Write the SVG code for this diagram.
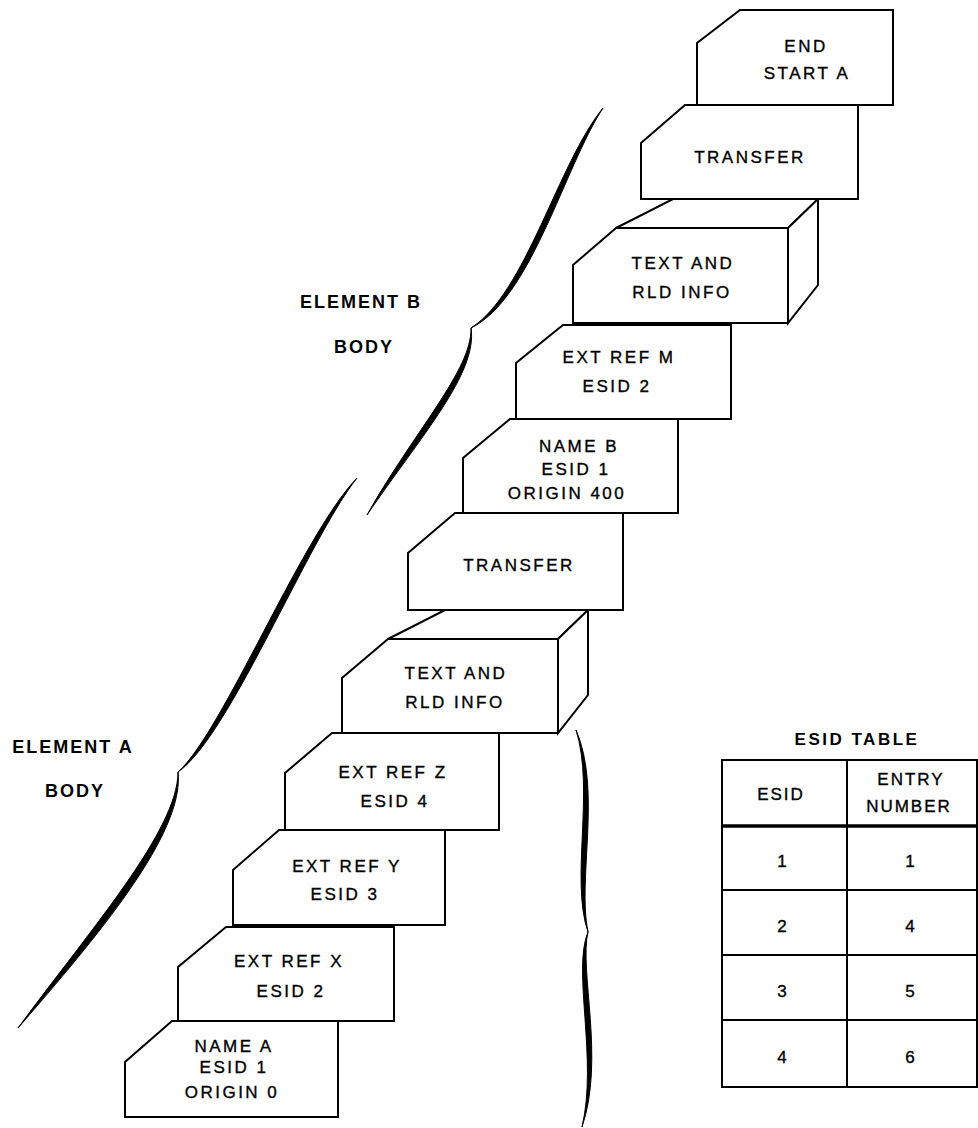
<svg xmlns="http://www.w3.org/2000/svg" width="978" height="1128" viewBox="0 0 978 1128">
<style>
.card{fill:#fff;stroke:#000;stroke-width:2;stroke-linejoin:miter}
.t{font-family:"Liberation Sans",Arial,sans-serif;font-size:17px;letter-spacing:2.5px;text-anchor:middle;fill:#000;stroke:#000;stroke-width:0.35}
.lb{font-family:"Liberation Sans",Arial,sans-serif;font-size:18px;font-weight:bold;letter-spacing:2px;text-anchor:middle;fill:#000}
.tb{font-family:"Liberation Sans",Arial,sans-serif;font-size:17px;letter-spacing:2px;text-anchor:middle;fill:#000;stroke:#000;stroke-width:0.35}
.brace{fill:#000;stroke:#000;stroke-width:1;stroke-linejoin:round}
.grid{fill:none;stroke:#000;stroke-width:2}
</style>
<rect width="978" height="1128" fill="#fff"/>

<g id="braces">
  <path class="brace" d="M603,108 C558,163 526,293 471,328 C531,299 564,168 603,108 Z"/>
  <path class="brace" d="M471,328 C472,370 415,430 367,515 C421,436 478,373 471,328 Z"/>
  <path class="brace" d="M357,478 C302,535 223,732 178,772 C229,737 308,540 357,478 Z"/>
  <path class="brace" d="M178,772 C178,830 90,930 18,1028 C97,937 185,833 178,772 Z"/>
  <path class="brace" d="M576,730 C595,790 570,880 588,932 C577,880 602,790 576,730 Z"/>
  <path class="brace" d="M588,932 C572,970 598,1060 582,1127 C605,1060 579,970 588,932 Z"/>
</g>

<g id="labels">
  <text class="lb" x="361" y="308">ELEMENT B</text>
  <text class="lb" x="364" y="353">BODY</text>
  <text class="lb" x="73" y="753">ELEMENT A</text>
  <text class="lb" x="75" y="797">BODY</text>
</g>

<g id="card-end">
  <path class="card" d="M740,10 L893,10 L893,105 L697,105 L697,43 Z"/>
  <text class="t" x="806" y="52">END</text>
  <text class="t" x="807" y="79">START A</text>
</g>

<g id="card-textrld-b">
  <path class="card" d="M616,228 L673,199 L818,199 L788,228 Z"/>
  <path class="card" d="M788,228 L818,199 L818,285 L788,323 Z"/>
  <path class="card" d="M616,228 L788,228 L788,323 L573,323 L573,265 Z"/>
  <text class="t" x="683" y="269">TEXT AND</text>
  <text class="t" x="682" y="298">RLD INFO</text>
</g>

<g id="card-transfer-b">
  <path class="card" d="M685,105 L858,105 L858,199 L641,199 L641,143 Z"/>
  <text class="t" x="750" y="163">TRANSFER</text>
</g>

<g id="card-extref-m">
  <path class="card" d="M563,325 L731,325 L731,419 L516,419 L516,363 Z"/>
  <text class="t" x="619" y="363">EXT REF M</text>
  <text class="t" x="617" y="392">ESID 2</text>
</g>

<g id="card-name-b">
  <path class="card" d="M510,419 L678,419 L678,513 L463,513 L463,458 Z"/>
  <text class="t" x="579" y="452">NAME B</text>
  <text class="t" x="576" y="475">ESID 1</text>
  <text class="t" x="567" y="499">ORIGIN 400</text>
</g>

<g id="card-textrld-a">
  <path class="card" d="M388,639 L445,610 L588,610 L558,639 Z"/>
  <path class="card" d="M558,639 L588,610 L588,695 L558,733 Z"/>
  <path class="card" d="M388,639 L558,639 L558,733 L342,733 L342,678 Z"/>
  <text class="t" x="456" y="679">TEXT AND</text>
  <text class="t" x="455" y="708">RLD INFO</text>
</g>

<g id="card-transfer-a">
  <path class="card" d="M455,513 L623,513 L623,610 L408,610 L408,553 Z"/>
  <text class="t" x="519" y="571">TRANSFER</text>
</g>

<g id="card-extref-z">
  <path class="card" d="M332,733 L499,733 L499,830 L285,830 L285,773 Z"/>
  <text class="t" x="393" y="778">EXT REF Z</text>
  <text class="t" x="395" y="807">ESID 4</text>
</g>

<g id="card-extref-y">
  <path class="card" d="M279,830 L445,830 L445,925 L233,925 L233,870 Z"/>
  <text class="t" x="347" y="872">EXT REF Y</text>
  <text class="t" x="345" y="900">ESID 3</text>
</g>

<g id="card-extref-x">
  <path class="card" d="M226,927 L394,927 L394,1021 L178,1021 L178,967 Z"/>
  <text class="t" x="289" y="967">EXT REF X</text>
  <text class="t" x="291" y="997">ESID 2</text>
</g>

<g id="card-name-a">
  <path class="card" d="M172,1021 L338,1021 L338,1117 L125,1117 L125,1062 Z"/>
  <text class="t" x="234" y="1052">NAME A</text>
  <text class="t" x="234" y="1073">ESID 1</text>
  <text class="t" x="232" y="1098">ORIGIN 0</text>
</g>

<g id="esid-table">
  <text class="lb" x="857" y="745" style="font-size:17px;letter-spacing:2.5px">ESID TABLE</text>
  <rect class="grid" x="722" y="760" width="255" height="327"/>
  <line class="grid" x1="847" y1="760" x2="847" y2="1087"/>
  <line class="grid" x1="722" y1="826" x2="977" y2="826" style="stroke-width:3.5"/>
  <line class="grid" x1="722" y1="890" x2="977" y2="890"/>
  <line class="grid" x1="722" y1="955" x2="977" y2="955"/>
  <line class="grid" x1="722" y1="1020" x2="977" y2="1020"/>
  <text class="tb" x="781" y="800">ESID</text>
  <text class="tb" x="911" y="785">ENTRY</text>
  <text class="tb" x="909" y="812">NUMBER</text>
  <text class="tb" x="783" y="867">1</text>
  <text class="tb" x="911" y="867">1</text>
  <text class="tb" x="783" y="932">2</text>
  <text class="tb" x="911" y="932">4</text>
  <text class="tb" x="783" y="997">3</text>
  <text class="tb" x="911" y="997">5</text>
  <text class="tb" x="783" y="1063">4</text>
  <text class="tb" x="911" y="1063">6</text>
</g>
</svg>
